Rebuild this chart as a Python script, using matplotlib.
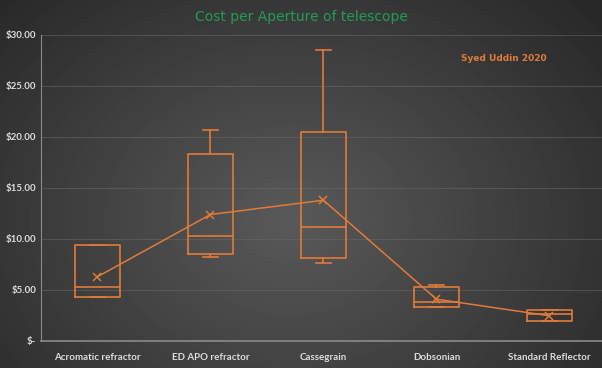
import numpy as np
import matplotlib.pyplot as plt

# Telescope cost per aperture (box plot stats)
categories = ['Acromatic refractor', 'ED APO refractor', 'Cassegrain', 'Dobsonian', 'Standard Reflector']
whisker_low = [4.3, 8.2, 7.6, 3.3, 1.95]
q1 = [4.3, 8.55, 8.1, 3.36, 1.95]
median = [5.3, 10.3, 11.2, 3.85, 2.6]
q3 = [9.4, 18.3, 20.5, 5.28, 3.03]
whisker_high = [9.4, 20.7, 28.5, 5.48, 3.03]
mean = [6.3, 12.4, 13.8, 4.1, 2.47]

y_ticks = [0, 5, 10, 15, 20, 25, 30]
y_tick_labels = ['$-', '$5.00', '$10.00', '$15.00', '$20.00', '$25.00', '$30.00']

orange = '#e07b39'

fig = plt.figure(figsize=(6.02, 3.68), dpi=100)

# dark radial gradient background
bg = fig.add_axes([0, 0, 1, 1])
yy, xx = np.mgrid[0:368, 0:602]
r = np.sqrt(((xx - 290) / 380.0) ** 2 + ((yy - 220) / 300.0) ** 2)
shade = np.clip(0.35 - 0.18 * r, 0.16, 0.35)
bg.imshow(shade, cmap='gray', vmin=0, vmax=1, aspect='auto', interpolation='bilinear')
bg.axis('off')

ax = fig.add_axes([0.068, 0.0734, 0.9385, 0.8315])
ax.set_facecolor('none')

stats = []
for i in range(len(categories)):
    stats.append({
        'whislo': whisker_low[i], 'q1': q1[i], 'med': median[i],
        'q3': q3[i], 'whishi': whisker_high[i], 'mean': mean[i], 'fliers': [],
    })

line_style = dict(color=orange, linewidth=1.2)
ax.bxp(stats, positions=range(len(categories)), widths=0.4, showmeans=True,
       boxprops=line_style, whiskerprops=line_style, capprops=line_style,
       medianprops=line_style, capwidths=0.13,
       meanprops=dict(marker='x', markeredgecolor=orange, markersize=6, markeredgewidth=1.1))

# mean line
ax.plot(range(len(categories)), mean, color=orange, linewidth=1.1, zorder=3)

ax.set_xlim(-0.5, len(categories) - 0.5)
ax.set_ylim(0, 30)
ax.set_yticks(y_ticks)
ax.set_yticklabels(y_tick_labels)
ax.set_xticks(range(len(categories)))
ax.set_xticklabels(categories)
ax.tick_params(length=0, colors='#dcdcdc', labelsize=7)
ax.tick_params(axis='x', pad=9)
ax.tick_params(axis='y', pad=3.5)
for lbl in ax.get_xticklabels() + ax.get_yticklabels():
    lbl.set_fontfamily('Lato')
    lbl.set_fontweight('bold')
ax.grid(axis='y', color='#6a6a6a', linewidth=0.8, alpha=0.5)
ax.set_axisbelow(True)

for side in ['top', 'right']:
    ax.spines[side].set_visible(False)
ax.spines['left'].set_color('#8a8a8a')
ax.spines['bottom'].set_color('#8a8a8a')
ax.spines['bottom'].set_linewidth(1.2)

fig.text(0.5, 0.955, 'Cost per Aperture of telescope', color='#239b55',
         fontsize=10, ha='center', va='center')
fig.text(0.765, 0.842, 'Syed Uddin 2020', color=orange, fontsize=6.5,
         fontweight='bold', ha='left', va='center')

plt.savefig('out.png', dpi=100)
